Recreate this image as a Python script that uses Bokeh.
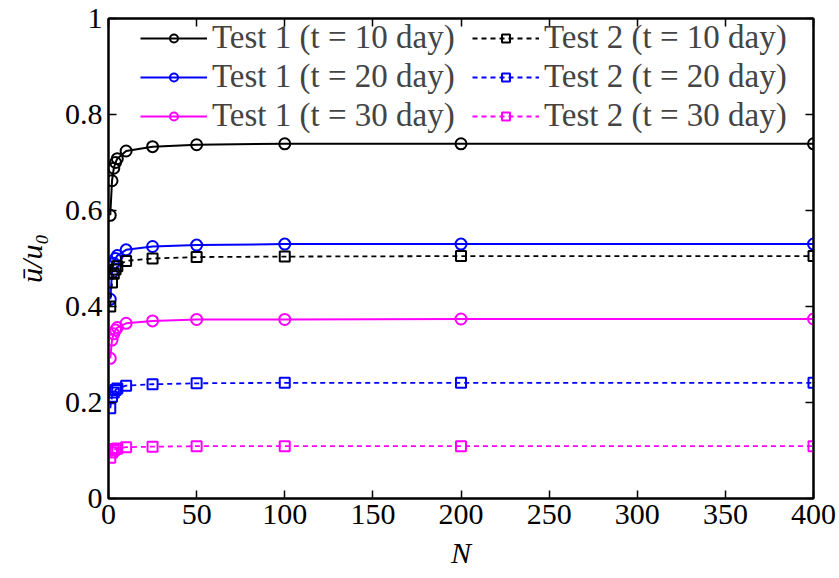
from bokeh.plotting import figure
from bokeh.models import (Range1d, LinearAxis, FixedTicker, CustomJSTickFormatter,
                          Legend, LegendItem)
from bokeh.embed import file_html
from bokeh.resources import INLINE

N = [1, 2, 3, 4, 5, 10, 25, 50, 100, 200, 400]
test1_10 = [0.590, 0.662, 0.688, 0.700, 0.708, 0.724, 0.733, 0.737, 0.739, 0.739, 0.739]
test1_20 = [0.415, 0.470, 0.490, 0.500, 0.506, 0.518, 0.525, 0.528, 0.530, 0.530, 0.530]
test1_30 = [0.292, 0.330, 0.343, 0.351, 0.356, 0.365, 0.370, 0.373, 0.373, 0.374, 0.374]
test2_10 = [0.400, 0.450, 0.468, 0.477, 0.484, 0.495, 0.500, 0.503, 0.504, 0.505, 0.505]
test2_20 = [0.188, 0.212, 0.221, 0.226, 0.229, 0.235, 0.238, 0.240, 0.241, 0.241, 0.241]
test2_30 = [0.085, 0.096, 0.100, 0.103, 0.104, 0.107, 0.108, 0.109, 0.109, 0.109, 0.109]

labels1 = ["Test 1 (t = 10 day)", "Test 1 (t = 20 day)", "Test 1 (t = 30 day)"]
labels2 = ["Test 2 (t = 10 day)", "Test 2 (t = 20 day)", "Test 2 (t = 30 day)"]
colors = ["#000000", "#0000ff", "#ff00ff"]

x_ticks = [0, 50, 100, 150, 200, 250, 300, 350, 400]
y_ticks = [0, 0.2, 0.4, 0.6, 0.8, 1.0]

FONT = "Liberation Serif"

p = figure(width=839, height=578, x_range=Range1d(0, 400), y_range=Range1d(0, 1),
           output_backend="svg", toolbar_location=None,
           min_border_left=108, min_border_right=26, min_border_top=18, min_border_bottom=80)
p.xgrid.visible = False
p.ygrid.visible = False
p.outline_line_color = "black"
p.outline_line_width = 2

yfmt = CustomJSTickFormatter(code="var s = tick.toFixed(1); return s.replace(/\\.0$/, '');")
blank = CustomJSTickFormatter(code="return '';")

def style_axis(ax, show_labels=True):
    ax.axis_line_width = 2
    ax.axis_line_color = "black"
    ax.major_tick_in = 8
    ax.major_tick_out = 0
    ax.minor_tick_line_color = None
    ax.major_tick_line_width = 1.5
    ax.major_tick_line_color = "black"
    ax.major_label_text_font = FONT
    ax.major_label_text_color = "black"
    ax.major_label_text_font_size = "30px"
    ax.axis_label_text_color = "black"
    if show_labels:
        ax.major_label_standoff = 6
    else:
        ax.formatter = blank
        ax.major_label_standoff = 0

xa = p.xaxis[0]
xa.ticker = FixedTicker(ticks=x_ticks)
style_axis(xa)
xa.axis_label = "N"
xa.axis_label_text_font = FONT
xa.axis_label_text_font_style = "italic"
xa.axis_label_text_font_size = "30px"
xa.axis_label_standoff = 9

ya = p.yaxis[0]
ya.ticker = FixedTicker(ticks=y_ticks)
ya.formatter = yfmt
style_axis(ya)
ya.axis_label = "ū/u₀"
ya.axis_label_text_font = FONT
ya.axis_label_text_font_style = "italic"
ya.axis_label_text_font_size = "30px"
ya.axis_label_standoff = 14

top = LinearAxis(ticker=FixedTicker(ticks=x_ticks))
style_axis(top, False)
p.add_layout(top, "above")
right = LinearAxis(ticker=FixedTicker(ticks=y_ticks))
style_axis(right, False)
p.add_layout(right, "right")

items1 = []
items2 = []
for ys, c, lab in zip([test1_10, test1_20, test1_30], colors, labels1):
    l = p.line(N, ys, line_color=c, line_width=2)
    s = p.scatter(N, ys, marker="circle", size=11, line_color=c, line_width=2, fill_color=None)
    items1.append(LegendItem(label=lab, renderers=[l, s]))
for ys, c, lab in zip([test2_10, test2_20, test2_30], colors, labels2):
    l = p.line(N, ys, line_color=c, line_width=1.8, line_dash="5 4")
    s = p.scatter(N, ys, marker="square", size=10, line_color=c, line_width=2, fill_color=None)
    items2.append(LegendItem(label=lab, renderers=[l, s]))

legend = Legend(items=items1 + items2, ncols=2,
                label_text_font=FONT, label_text_font_size="33px",
                glyph_width=67, glyph_height=20, label_standoff=5, label_width=258,
                spacing=2, padding=0, margin=0,
                border_line_color=None, background_fill_color=None)
p.add_layout(legend, "center")
legend.location = (32, 364)

open("out.html", "w").write(file_html(p, INLINE))
